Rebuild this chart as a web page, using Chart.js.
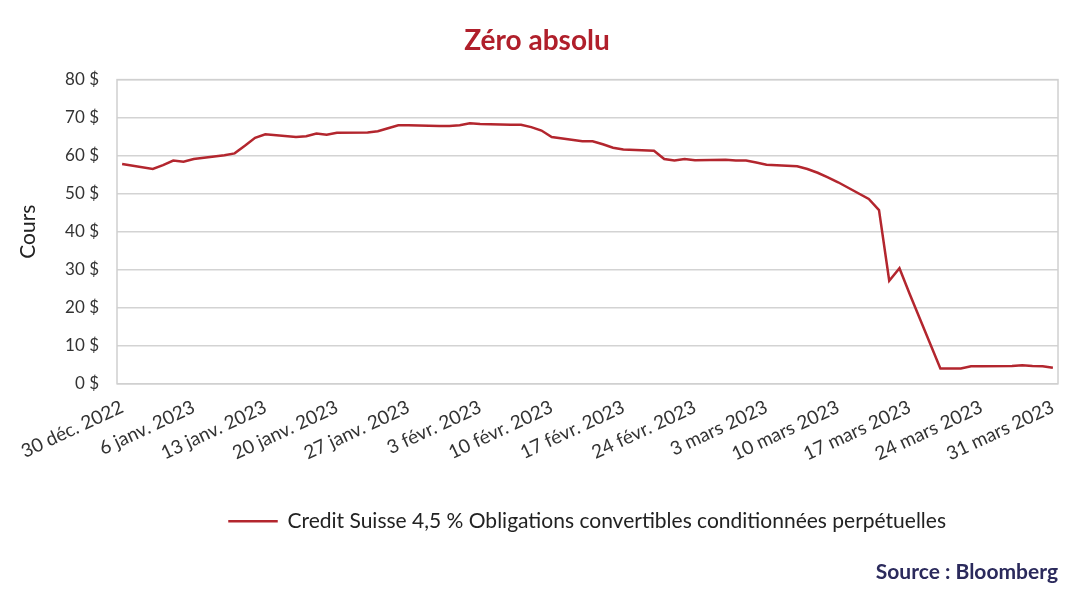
<!DOCTYPE html>
<html>
<head>
<meta charset="utf-8">
<script src="https://cdn.jsdelivr.net/npm/chart.js@4/dist/chart.umd.min.js"></script>
<style>
    html, body { margin: 0; padding: 0; background: #fff; }
    #wrap { width: 1080px; height: 607px; }
</style>
</head>
<body>
<div id="wrap"><canvas id="chart"></canvas></div>
<script>
// trading days (weekends are skipped, the line just joins across them)
const dates = [
    '2022-12-30',
    '2023-01-02', '2023-01-03', '2023-01-04', '2023-01-05', '2023-01-06',
    '2023-01-09', '2023-01-10', '2023-01-11', '2023-01-12', '2023-01-13',
    '2023-01-16', '2023-01-17', '2023-01-18', '2023-01-19', '2023-01-20',
    '2023-01-23', '2023-01-24', '2023-01-25', '2023-01-26', '2023-01-27',
    '2023-01-30', '2023-01-31', '2023-02-01', '2023-02-02', '2023-02-03',
    '2023-02-06', '2023-02-07', '2023-02-08', '2023-02-09', '2023-02-10',
    '2023-02-13', '2023-02-14', '2023-02-15', '2023-02-16', '2023-02-17',
    '2023-02-20', '2023-02-21', '2023-02-22', '2023-02-23', '2023-02-24',
    '2023-02-27', '2023-02-28', '2023-03-01', '2023-03-02', '2023-03-03',
    '2023-03-06', '2023-03-07', '2023-03-08', '2023-03-09', '2023-03-10',
    '2023-03-13', '2023-03-14', '2023-03-15', '2023-03-16', '2023-03-17',
    '2023-03-20', '2023-03-21', '2023-03-22', '2023-03-23', '2023-03-24',
    '2023-03-27', '2023-03-28', '2023-03-29', '2023-03-30', '2023-03-31',
];

const prices = [
    57.8,
    56.5, 57.5, 58.7, 58.4, 59.1,
    60.1, 60.6, 62.6, 64.7, 65.6,
    64.9, 65.1, 65.8, 65.5, 66.0,
    66.1, 66.4, 67.2, 68.0, 68.0,
    67.8, 67.8, 68.0, 68.5, 68.3,
    68.1, 68.1, 67.5, 66.6, 64.9,
    63.8, 63.8, 63.0, 62.1, 61.6,
    61.3, 59.1, 58.7, 59.1, 58.8,
    58.9, 58.7, 58.7, 58.2, 57.6,
    57.2, 56.5, 55.5, 54.3, 53.0,
    48.6, 45.7, 27.1, 30.4, 23.6,
    4.0, 4.0, 4.0, 4.6, 4.6,
    4.7, 4.9, 4.7, 4.6, 4.2,
];

const tickLabels = [
    '30 déc. 2022', '6 janv. 2023', '13 janv. 2023', '20 janv. 2023', '27 janv. 2023',
    '3 févr. 2023', '10 févr. 2023', '17 févr. 2023', '24 févr. 2023', '3 mars 2023',
    '10 mars 2023', '17 mars 2023', '24 mars 2023', '31 mars 2023',
];

const seriesLabel = 'Credit Suisse 4,5 % Obligations convertibles conditionnées perpétuelles';
const FONT = 'Lato, "Noto Sans", sans-serif';
const RED = '#b3262e';

const startDay = Date.UTC(2022, 11, 30);
const dayIndex = (iso) => Math.round((Date.parse(iso) - startDay) / 86400000);
const points = dates.map((d, i) => ({ x: dayIndex(d), y: prices[i] }));
const tickDays = tickLabels.map((_, i) => i * 7);

// grey frame round the plot area
const frame = {
    id: 'frame',
    afterDatasetsDraw(chart) {
        const { ctx, chartArea: a } = chart;
        ctx.save();
        ctx.strokeStyle = '#d0d0d0';
        ctx.lineWidth = 1.5;
        ctx.strokeRect(a.left, a.top, a.right - a.left, a.bottom - a.top);
        ctx.restore();
    },
};

new Chart(document.getElementById('chart'), {
    type: 'line',
    data: {
        datasets: [{
            label: seriesLabel,
            data: points,
            borderColor: RED,
            backgroundColor: RED,
            borderWidth: 2.5,
            pointRadius: 0,
            tension: 0,
        }],
    },
    options: {
        responsive: true,
        maintainAspectRatio: false,
        animation: false,
        layout: { padding: { left: 16, right: 22, top: 8, bottom: 22 } },
        scales: {
            x: {
                type: 'linear',
                min: -0.5,
                max: 91.5,
                afterBuildTicks: (scale) => {
                    scale.ticks = tickDays.map((v) => ({ value: v }));
                },
                afterFit: (scale) => { scale.height = 117; },
                grid: { display: false },
                border: { display: false },
                ticks: {
                    autoSkip: false,
                    minRotation: 25,
                    maxRotation: 25,
                    padding: 4,
                    color: '#333',
                    font: { family: FONT, size: 19 },
                    callback: (v) => tickLabels[tickDays.indexOf(v)] ?? '',
                },
            },
            y: {
                min: 0,
                max: 80,
                afterFit: (scale) => { scale.width = 101; },
                grid: { color: '#d3d3d3', lineWidth: 1.5, drawTicks: false },
                border: { display: false },
                title: {
                    display: true,
                    text: 'Cours',
                    color: '#222',
                    font: { family: FONT, size: 21 },
                    padding: { top: 0, bottom: 0 },
                },
                ticks: {
                    stepSize: 10,
                    padding: 18,
                    color: '#333',
                    font: { family: FONT, size: 17 },
                    callback: (v) => `${v} $`,
                },
            },
        },
        plugins: {
            title: {
                display: true,
                text: 'Zéro absolu',
                color: '#b01f2b',
                font: { family: FONT, size: 28, weight: 'bold' },
                padding: { top: 16, bottom: 22 },
            },
            subtitle: {
                display: true,
                position: 'bottom',
                align: 'end',
                text: 'Source : Bloomberg',
                color: '#2b2a5c',
                font: { family: FONT, size: 21, weight: 'bold' },
                padding: { top: 18, bottom: 0 },
            },
            legend: {
                display: true,
                position: 'bottom',
                fullSize: false,
                labels: {
                    boxWidth: 48,
                    boxHeight: 1,
                    padding: 10,
                    color: '#222',
                    font: { family: FONT, size: 21 },
                    generateLabels: (chart) => Chart.defaults.plugins.legend.labels
                        .generateLabels(chart)
                        .map((item) => ({ ...item, lineWidth: 1.5 })),
                },
            },
            tooltip: { enabled: false },
        },
    },
    plugins: [frame],
});
</script>
</body>
</html>
